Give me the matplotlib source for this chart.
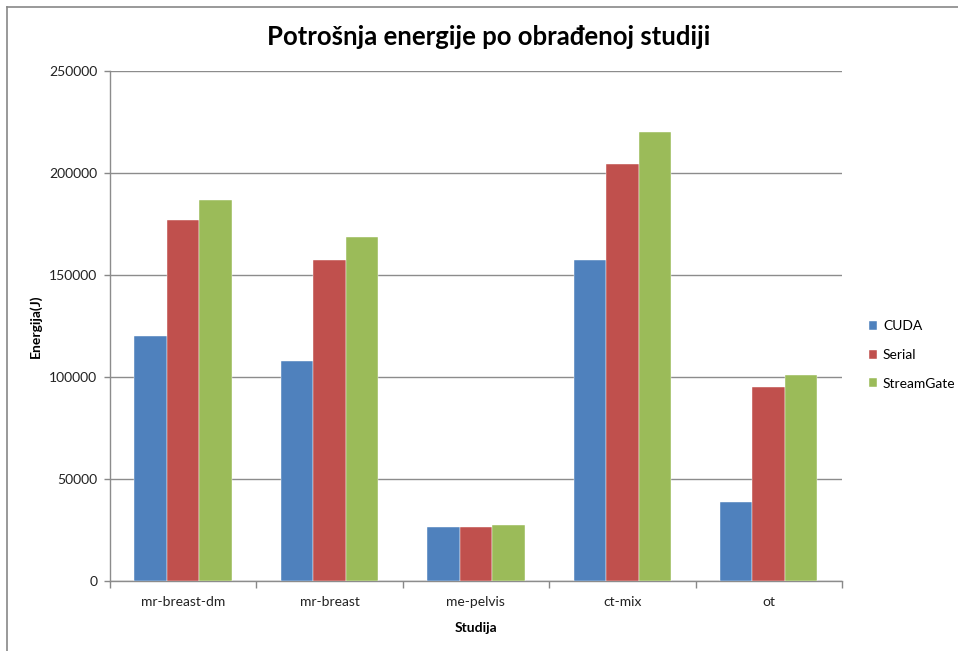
import matplotlib.pyplot as plt
import numpy as np
from matplotlib.lines import Line2D

plt.rcParams['font.family'] = ['Lato', 'DejaVu Sans']

studies = ['mr-breast-dm', 'mr-breast', 'me-pelvis', 'ct-mix', 'ot']
series_names = ['CUDA', 'Serial', 'StreamGate']
cuda = [120300, 107800, 26700, 157400, 38500]
serial = [177100, 157400, 26700, 204400, 94900]
streamgate = [186700, 168600, 27700, 220000, 101200]
colors = ['#4f81bd', '#c0504d', '#9bbb59']
yticks = [0, 50000, 100000, 150000, 200000, 250000]

fig = plt.figure(figsize=(9.58, 6.51), dpi=100)
ax = fig.add_axes([0.1148, 0.1075, 0.764, 0.7835])

x = np.arange(len(studies))
w = 1 / 4.5
for i, (vals, name) in enumerate(zip([cuda, serial, streamgate], series_names)):
    ax.bar(x + (i - 1) * w, vals, width=w, color=colors[i], label=name,
           edgecolor='white', linewidth=0.3, zorder=3)

ax.set_xlim(-0.5, len(studies) - 0.5)
ax.set_ylim(0, 250000)
ax.set_yticks(yticks)
ax.set_yticklabels([str(v) for v in yticks], fontsize=10, color='#222222')
ax.set_xticks(x)
ax.set_xticklabels(studies, fontsize=10, color='#222222')
ax.tick_params(axis='x', length=0, pad=11)
ax.tick_params(axis='y', length=4, color='#888888', width=1, pad=5)
# category boundary ticks below the axis
ax.set_xticks(np.arange(-0.5, len(studies)), minor=True)
ax.tick_params(axis='x', which='minor', length=5, color='#888888', width=1)

ax.grid(axis='y', color='#8c8c8c', linewidth=1, zorder=0)
for s in ['top', 'right']:
    ax.spines[s].set_visible(False)
for s in ['left', 'bottom']:
    ax.spines[s].set_color('#8c8c8c')
    ax.spines[s].set_linewidth(1)

ax.set_xlabel('Studija', fontsize=10, fontweight='bold', labelpad=10)
ax.set_ylabel('Energija(J)', fontsize=10, fontweight='bold', labelpad=5)

fig.text(0.51, 0.943, 'Potrošnja energije po obrađenoj studiji', ha='center', va='center',
         fontsize=18.5, fontweight='bold')

ax.legend(loc='center left', bbox_to_anchor=(1.02, 0.443), frameon=False, fontsize=10,
          handlelength=0.6, handleheight=0.6, handletextpad=0.4, labelspacing=1.2)

# outer chart border (top and left edges)
fig.add_artist(Line2D([0.007, 1.0], [0.989, 0.989], color='#888888', linewidth=1.2,
                      transform=fig.transFigure))
fig.add_artist(Line2D([0.007, 0.007], [0.0, 0.989], color='#888888', linewidth=1.2,
                      transform=fig.transFigure))

fig.savefig('out.png', dpi=100)
